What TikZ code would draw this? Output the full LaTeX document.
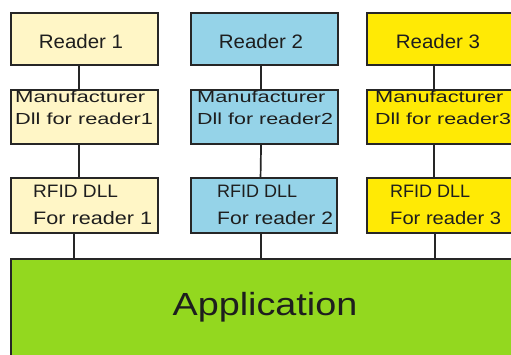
\documentclass[tikz,border=0pt]{standalone}
\usepackage{fontspec}
\setmainfont{Liberation Sans}
\definecolor{boxline}{HTML}{262626}
\definecolor{txt}{HTML}{1E1E1E}
\definecolor{rone}{HTML}{FFF6C6}
\definecolor{rtwo}{HTML}{95D3E8}
\definecolor{rthree}{HTML}{FFEA05}
\definecolor{appgreen}{HTML}{93D81F}
\begin{document}
\begin{tikzpicture}[x=1pt,y=1pt,
  box/.style={draw=boxline, line width=2.1pt, inner sep=0pt, anchor=north west},
  conn/.style={draw=boxline, line width=1.7pt},
  rtext/.style={anchor=base, inner sep=0pt, text=txt, font=\fontsize{19.5}{22}\selectfont},
  mtext/.style={anchor=base west, inner sep=0pt, text=txt, font=\fontsize{16}{20}\selectfont},
  ftext/.style={anchor=base west, inner sep=0pt, text=txt, font=\fontsize{18}{20}\selectfont},
  atext/.style={anchor=base, inner sep=0pt, text=txt, font=\fontsize{32}{36}\selectfont}]
\useasboundingbox (0,0) rectangle (511,-355);
\clip (0,0) rectangle (511,-355);
\fill[white] (0,0) rectangle (511,-355);
% boxes
\node[box, fill=rone, minimum width=147pt, minimum height=52pt] (r1) at (10,-12) {};
\node[box, fill=rtwo, minimum width=147pt, minimum height=52pt] (r2) at (190,-12) {};
\node[box, fill=rthree, minimum width=160pt, minimum height=52pt] (r3) at (366,-12) {};
\node[box, fill=rone, minimum width=147pt, minimum height=54pt] (m1) at (10,-89) {};
\node[box, fill=rtwo, minimum width=147pt, minimum height=54pt] (m2) at (190,-89) {};
\node[box, fill=rthree, minimum width=160pt, minimum height=54pt] (m3) at (366,-89) {};
\node[box, fill=rone, minimum width=147pt, minimum height=55pt] (f1) at (10,-177) {};
\node[box, fill=rtwo, minimum width=146pt, minimum height=55pt] (f2) at (190,-177) {};
\node[box, fill=rthree, minimum width=160pt, minimum height=55pt] (f3) at (366,-177) {};
\node[box, fill=appgreen, minimum width=520pt, minimum height=110pt] (app) at (10,-258) {};
% texts
\node[rtext] (r1t) at (81,-49) {\scalebox{1.05}[1]{Reader 1}};
\node[rtext] (r2t) at (261,-49) {\scalebox{1.05}[1]{Reader 2}};
\node[rtext] (r3t) at (438,-49) {\scalebox{1.05}[1]{Reader 3}};
\node[mtext] (m1a) at (15,-103) {\scalebox{1.38}[1]{Manufacturer}};
\node[mtext] (m1b) at (15,-125) {\scalebox{1.36}[1]{Dll for reader1}};
\node[mtext] (m2a) at (197,-103) {\scalebox{1.36}[1]{Manufacturer}};
\node[mtext] (m2b) at (197,-125) {\scalebox{1.34}[1]{Dll for reader2}};
\node[mtext] (m3a) at (375,-103) {\scalebox{1.36}[1]{Manufacturer}};
\node[mtext] (m3b) at (375,-125) {\scalebox{1.34}[1]{Dll for reader3}};
\node[ftext] (f1a) at (33,-198) {\scalebox{1.06}[1]{RFID DLL}};
\node[ftext] (f1b) at (33,-225) {\scalebox{1.2}[1]{For reader 1}};
\node[ftext] (f2a) at (217,-198) {\scalebox{1.0}[1]{RFID DLL}};
\node[ftext] (f2b) at (217,-225) {\scalebox{1.17}[1]{For reader 2}};
\node[ftext] (f3a) at (390,-198) {\scalebox{1.0}[1]{RFID DLL}};
\node[ftext] (f3b) at (390,-225) {\scalebox{1.12}[1]{For reader 3}};
\node[atext] (appt) at (265,-315) {\scalebox{1.18}[1]{Application}};
% connectors
\draw[conn] ([xshift=-5.5pt]r1.south) -- ([xshift=-5.5pt]m1.north);
\draw[conn] ([xshift=-3.5pt]r2.south) -- ([xshift=-3.5pt]m2.north);
\draw[conn] ([xshift=-13pt]r3.south) -- ([xshift=-13pt]m3.north);
\draw[conn] ([xshift=-5.5pt]m1.south) -- ([xshift=-5.5pt]f1.north);
\draw[conn] ([xshift=-3.5pt]m2.south) -- ([xshift=-3.5pt]f2.north);
\draw[conn] ([xshift=-13pt]m3.south) -- ([xshift=-13pt]f3.north);
\draw[conn] ([xshift=-10.5pt]f1.south) -- ([xshift=-10.5pt]f1.south |- app.north);
\draw[conn] ([xshift=-3pt]f2.south) -- ([xshift=-3pt]f2.south |- app.north);
\draw[conn] ([xshift=-12pt]f3.south) -- ([xshift=-12pt]f3.south |- app.north);
\end{tikzpicture}
\end{document}
